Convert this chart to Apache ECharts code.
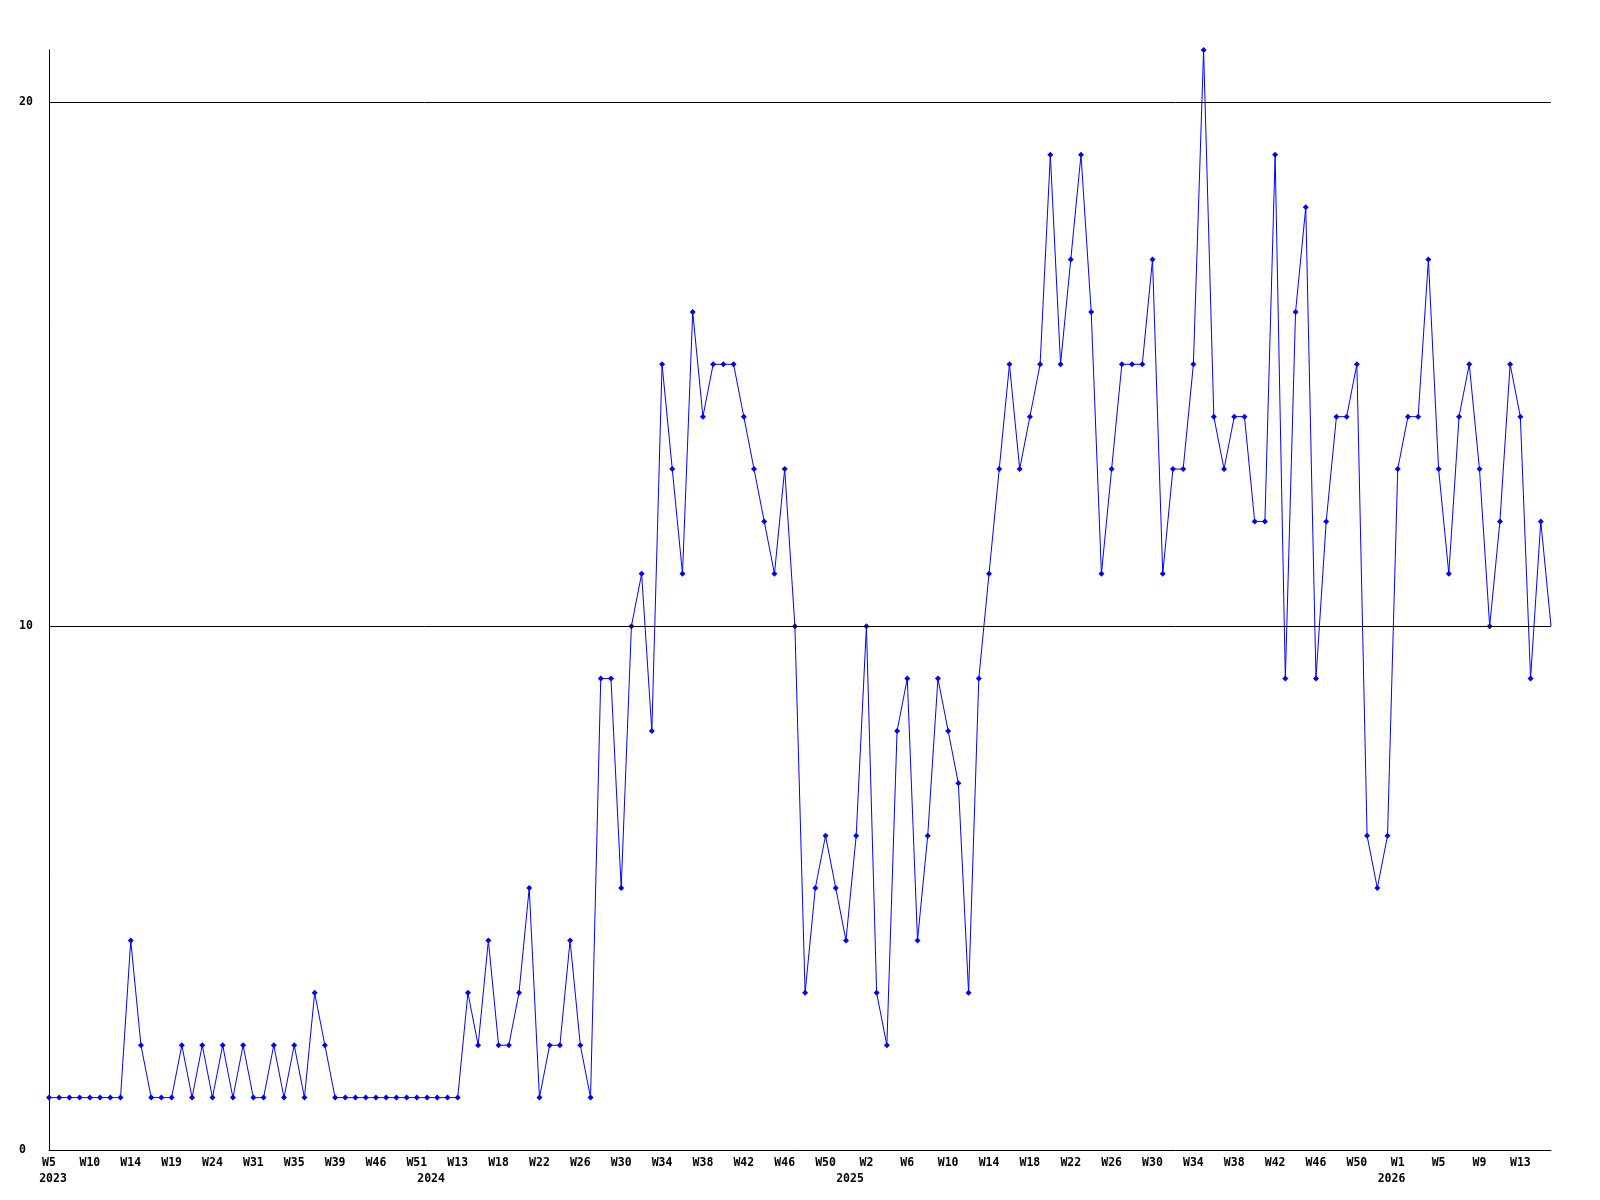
<!DOCTYPE html>
<html><head><meta charset="utf-8">
<script src="https://cdn.jsdelivr.net/npm/echarts@6/dist/echarts.min.js"></script>
<style>html,body{margin:0;padding:0;background:#fff}#c{width:1600px;height:1200px}</style>
</head><body><div id="c"></div>
<script>
// Week numbers per year (one point per listed week)
const weeks2023 = [5,6,7,8,10,11,12,13,14,15,16,17,19,20,21,22,24,25,27,29,31,32,33,34,35,36,37,38,39,40,42,44,46,47,48,49,51];
const weeks2024 = [1,5,9,13,15,16,17,18,19,20,21,22,23,24,25,26,27,28,29,30,31,32,33,34,35,36,37,38,39,40,41,42,43,44,45,46,47,48,49,50,51];
const weeks2025 = [0,1,2,3,4,5,6,7,8,9,10,11,12,13,14,15,16,17,18,19,20,21,22,23,24,25,26,27,28,29,30,31,32,33,34,35,36,37,38,39,40,41,42,43,44,45,46,47,48,49,50,51,52];
const weeks2026 = [0,1,2,3,4,5,6,7,8,9,10,11,12,13,14,15,16];

const values = [
  1,1,1,1,1,1,1,1,4,2,1,1,1,2,1,2,1,2,1,2,1,1,2,1,2,1,3,2,
  1,1,1,1,1,1,1,1,1,1,1,1,1,
  3,2,4,2,2,3,5,1,2,2,4,2,1,9,9,5,10,11,8,15,13,11,16,14,15,15,15,14,13,12,11,13,10,
  3,5,6,5,4,6,10,3,2,8,9,4,6,9,8,7,3,9,11,13,15,13,14,15,19,15,17,19,16,11,13,15,15,15,17,11,13,13,
  15,21,14,13,14,14,12,12,19,9,16,18,9,12,14,14,15,6,5,6,13,14,14,17,13,11,14,15,13,10,12,15,14,9,12,10
];

const yTicks = [0, 10, 20];
const yMax = 21;

const categories = [];
const yearStart = {};
[[2023, weeks2023], [2024, weeks2024], [2025, weeks2025], [2026, weeks2026]].forEach(([y, ws]) => {
  yearStart[categories.length] = String(y);
  ws.forEach(w => categories.push(y + '-W' + w));
});

const FONT = 'DejaVu Sans Mono';
const chart = echarts.init(document.getElementById('c'), null, {renderer: 'canvas'});
chart.setOption({
  animation: false,
  backgroundColor: '#fff',
  grid: {left: 49, top: 50, width: 1502, height: 1100, containLabel: false},
  xAxis: [{
    type: 'category', data: categories, boundaryGap: false, position: 'bottom',
    axisLine: {show: true, onZero: false, lineStyle: {color: '#000', width: 1}},
    axisTick: {show: false}, splitLine: {show: false},
    axisLabel: {
      interval: (i) => i % 4 === 0,
      formatter: (v) => v.split('-')[1],
      fontFamily: FONT, fontWeight: 'bold', fontSize: 11.5, color: '#000', margin: 7
    }
  }, {
    type: 'category', data: categories, boundaryGap: false, position: 'bottom', offset: 0,
    axisLine: {show: false}, axisTick: {show: false}, splitLine: {show: false},
    axisLabel: {
      interval: (i) => yearStart[i] !== undefined,
      formatter: (v, i) => yearStart[i] || '',
      fontFamily: FONT, fontWeight: 'bold', fontSize: 11.5, color: '#000', margin: 23,
      padding: [0, 0, 0, 8]
    }
  }],
  yAxis: {
    type: 'value', min: 0, max: yMax, interval: 10,
    axisLine: {show: true, lineStyle: {color: '#000', width: 1}},
    axisTick: {show: false}, splitLine: {show: false},
    axisLabel: {
      align: 'left', margin: 30,
      formatter: (v) => yTicks.includes(v) ? String(v) : '',
      fontFamily: FONT, fontWeight: 'bold', fontSize: 11.5, color: '#000'
    }
  },
  series: [{
    type: 'line', xAxisIndex: 0, yAxisIndex: 0,
    data: values.map((v, i) => i === values.length - 1 ? {value: v, symbol: 'none'} : v),
    showAllSymbol: true, symbol: 'diamond', symbolSize: 6,
    lineStyle: {color: '#0000ff', width: 1},
    itemStyle: {color: '#0000ff'},
    markLine: {
      silent: true, symbol: 'none', label: {show: false},
      lineStyle: {color: '#000', width: 1, type: 'solid'},
      data: yTicks.filter(t => t > 0).map(t => ({yAxis: t}))
    }
  }]
});
</script></body></html>
